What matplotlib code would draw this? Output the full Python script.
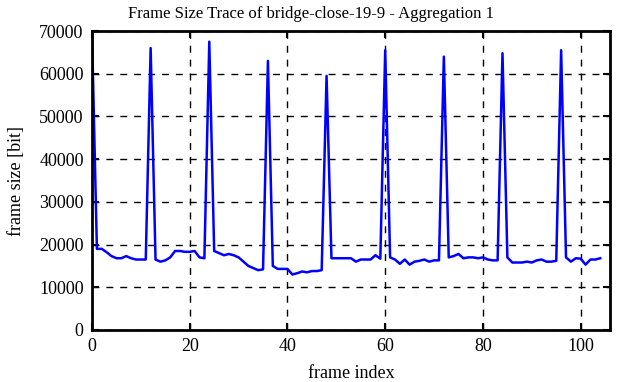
import matplotlib
matplotlib.use("Agg")
import matplotlib.pyplot as plt

frame_index = list(range(105))
frame_size = [
    69500, 19000, 19000, 18200, 17300, 16800, 16800, 17300, 16800, 16500, 16500, 16500,
    66000, 16500, 16000, 16300, 17000, 18500, 18500, 18300, 18300, 18500, 17000, 16800,
    67500, 18500, 18000, 17500, 17800, 17500, 17000, 16000, 15000, 14500, 14000, 14200,
    63000, 15000, 14300, 14300, 14300, 13000, 13300, 13700, 13500, 13800, 13800, 14000,
    59500, 16800, 16800, 16800, 16800, 16800, 16000, 16500, 16500, 16500, 17500, 16700,
    65500, 17000, 16500, 15500, 16500, 15300, 16000, 16200, 16500, 16000, 16300, 16300,
    64000, 17000, 17300, 17800, 16800, 17000, 17000, 16800, 17000, 16500, 16300, 16300,
    64800, 17000, 15800, 15800, 15800, 16000, 15800, 16300, 16500, 16000, 16000, 16200,
    65500, 17000, 16000, 16800, 16700, 15300, 16500, 16500, 16800,
]
x_ticks = [0, 20, 40, 60, 80, 100]
y_ticks = [0, 10000, 20000, 30000, 40000, 50000, 60000, 70000]
title = "Frame Size Trace of bridge-close-19-9 - Aggregation 1"

plt.rcParams['font.family'] = ['Liberation Serif', 'DejaVu Serif']

fig = plt.figure(figsize=(6.22, 3.82), dpi=100)
ax = fig.add_axes([92/622, 52/382, 518/622, 299/382])
ax.plot(frame_index, frame_size, color='#0000ff', linewidth=1.8)
ax.set_xlim(0, 106)
ax.set_ylim(0, 70000)
ax.set_xticks(x_ticks)
ax.set_yticks(y_ticks)
ax.tick_params(direction='in', length=5, width=1.5, labelsize=13,
               top=True, right=True, pad=6)
ax.grid(True, color='black', linestyle=(0, (5, 5)), linewidth=1.0)
for s in ax.spines.values():
    s.set_linewidth(2)
ax.set_xlabel('frame index', fontsize=13, labelpad=7)
ax.set_ylabel('frame size [bit]', fontsize=13, labelpad=10)
fig.text(0.5, 1 - 18/382, title, fontsize=12, ha='center', va='baseline')
fig.savefig('out.png', dpi=100)
